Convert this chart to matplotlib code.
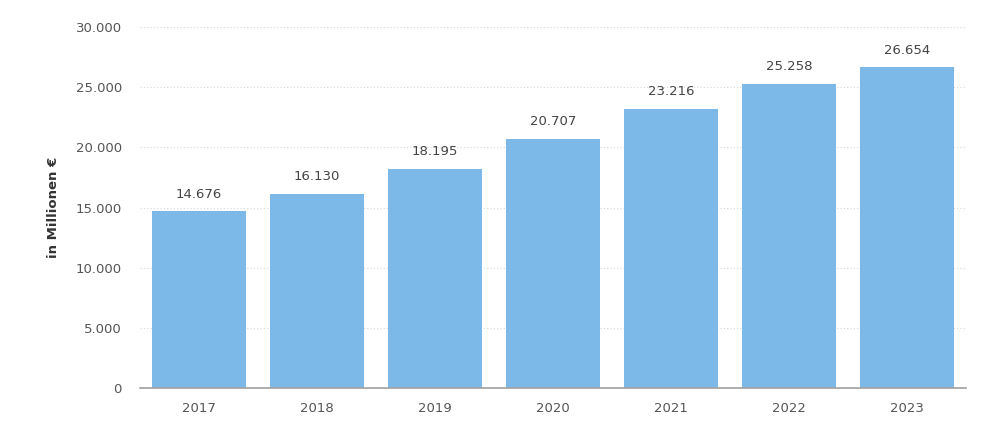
import matplotlib
matplotlib.use("Agg")
import matplotlib.pyplot as plt
from matplotlib.ticker import FuncFormatter

years = ["2017", "2018", "2019", "2020", "2021", "2022", "2023"]
values = [14676, 16130, 18195, 20707, 23216, 25258, 26654]
y_ticks = [0, 5000, 10000, 15000, 20000, 25000, 30000]


def de_fmt(v, pos=None):
  return f"{int(v):,}".replace(",", ".")


fig = plt.figure(figsize=(10, 4.24), dpi=100)
ax = fig.add_axes([0.14, 0.085, 0.826, 0.851])

x = range(len(years))
bars = ax.bar(x, values, width=0.8, color="#7db9e8", zorder=2)

for xi, v in zip(x, values):
  ax.text(xi, v + 900, de_fmt(v), ha="center", va="bottom",
          fontsize=9.5, color="#444444")

ax.set_xlim(-0.5, len(years) - 0.5)
ax.set_ylim(0, 30000)
ax.set_yticks(y_ticks)
ax.yaxis.set_major_formatter(FuncFormatter(de_fmt))
ax.set_xticks(list(x))
ax.set_xticklabels(years)

ax.grid(axis="y", linestyle=(0, (1, 2)), color="#d8d8d8", linewidth=0.8, zorder=0)
for s in ["top", "right", "left"]:
  ax.spines[s].set_visible(False)
ax.spines["bottom"].set_color("#a0a0a0")
ax.spines["bottom"].set_linewidth(1.2)

ax.tick_params(axis="y", length=0, pad=13, labelsize=9.5, labelcolor="#555555")
ax.tick_params(axis="x", length=0, pad=10, labelsize=9.5, labelcolor="#555555")

ax.set_ylabel("in Millionen €", fontsize=9.5, color="#333333", fontweight="semibold",
              labelpad=11)

fig.savefig("out.png", dpi=100)
